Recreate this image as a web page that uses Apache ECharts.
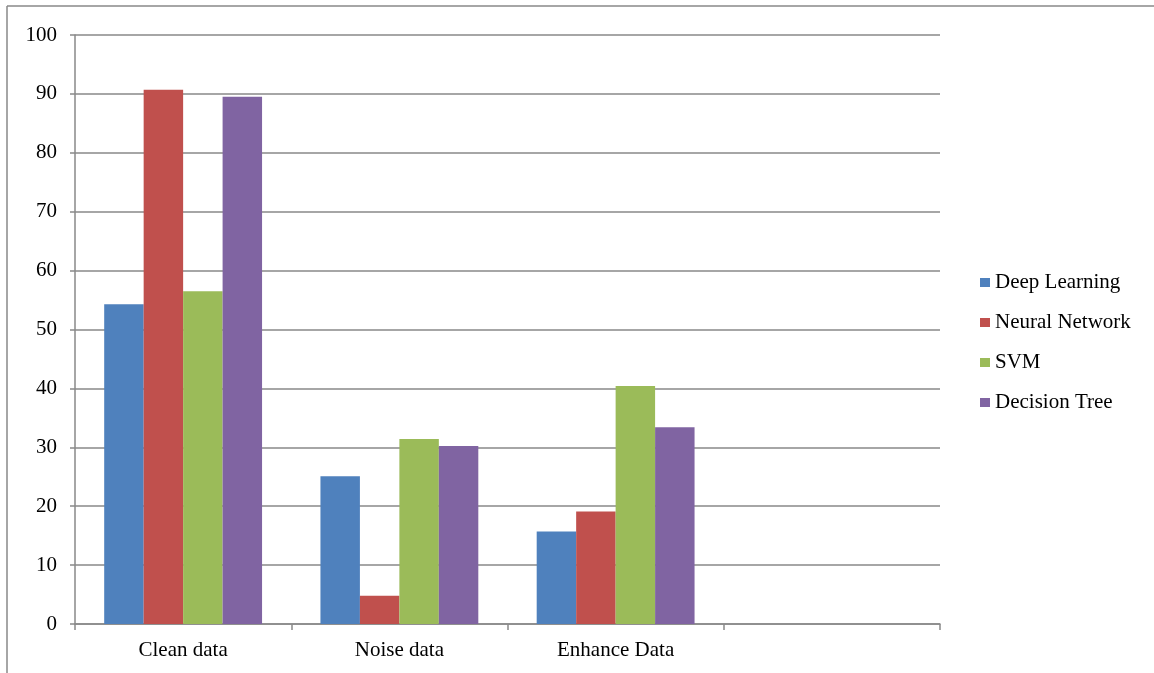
<!DOCTYPE html>
<html>
<head>
<meta charset="utf-8">
<script src="https://cdn.jsdelivr.net/npm/echarts@6/dist/echarts.min.js"></script>
<style>
  html, body { margin: 0; padding: 0; background: #fff; }
  #chart { width: 1154px; height: 673px; }
</style>
</head>
<body>
<div id="chart"></div>
<script>
// Accuracy by data condition for four classifier types
const categories = ['Clean data', 'Noise data', 'Enhance Data', ''];
const deepLearning = [54.3, 25.1, 15.7, null];
const neuralNetwork = [90.7, 4.8, 19.1, null];
const svm = [56.5, 31.4, 40.4, null];
const decisionTree = [89.5, 30.2, 33.4, null];
const yTicks = { min: 0, max: 100, interval: 10 };

const seriesDefs = [
  { name: 'Deep Learning', data: deepLearning, color: '#4f81bd' },
  { name: 'Neural Network', data: neuralNetwork, color: '#c0504d' },
  { name: 'SVM', data: svm, color: '#9bbb59' },
  { name: 'Decision Tree', data: decisionTree, color: '#8064a2' }
];

const font = '"Liberation Serif", "Times New Roman", serif';
const axisGray = '#898989';

const chart = echarts.init(document.getElementById('chart'), null, { renderer: 'canvas' });
chart.setOption({
  backgroundColor: '#ffffff',
  animation: false,
  textStyle: { fontFamily: font },
  graphic: [
    { type: 'line', shape: { x1: 7, y1: 6, x2: 1154, y2: 6 }, style: { stroke: axisGray, lineWidth: 1.5 } },
    { type: 'line', shape: { x1: 7, y1: 6, x2: 7, y2: 673 }, style: { stroke: axisGray, lineWidth: 1.5 } }
  ],
  grid: { left: 75, right: 214, top: 35, bottom: 49, containLabel: false },
  legend: {
    orient: 'vertical',
    left: 975,
    top: 267,
    itemWidth: 10,
    itemHeight: 9,
    itemGap: 19,
    icon: 'rect',
    textStyle: { fontFamily: font, fontSize: 21, lineHeight: 21, color: '#000' },
    data: seriesDefs.map(s => s.name)
  },
  xAxis: {
    type: 'category',
    data: categories,
    boundaryGap: true,
    axisLine: { show: true, lineStyle: { color: axisGray, width: 1.5 } },
    axisTick: { show: true, length: 6, lineStyle: { color: axisGray, width: 1.5 } },
    axisLabel: { fontFamily: font, fontSize: 21, color: '#000', margin: 16 },
    splitLine: { show: false }
  },
  yAxis: {
    type: 'value',
    min: yTicks.min,
    max: yTicks.max,
    interval: yTicks.interval,
    axisLine: { show: true, lineStyle: { color: axisGray, width: 1.5 } },
    axisTick: { show: true, length: 5, lineStyle: { color: axisGray, width: 1.5 } },
    axisLabel: { fontFamily: font, fontSize: 21, color: '#000', margin: 18 },
    splitLine: { show: true, lineStyle: { color: axisGray, width: 1.5 } }
  },
  series: seriesDefs.map(s => ({
    name: s.name,
    type: 'bar',
    data: s.data,
    barGap: '0%',
    barCategoryGap: '27%',
    itemStyle: { color: s.color },
    z: 3
  }))
});
</script>
</body>
</html>
